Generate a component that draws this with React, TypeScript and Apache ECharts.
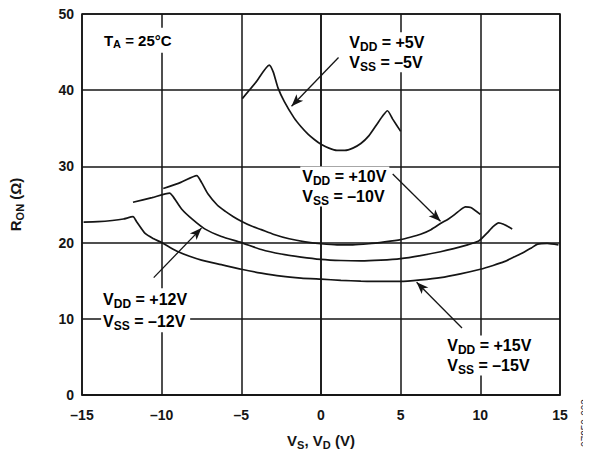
import React, { useEffect, useRef } from "react";
import * as echarts from "echarts";

// Axis ranges / ticks
const X_MIN = -15, X_MAX = 15, X_STEP = 5;
const Y_MIN = 0, Y_MAX = 50, Y_STEP = 10;

// RON (Ω) vs VS, VD (V) for each supply setting
const ron5: [number, number][] = [
  [-4.94, 38.9], [-4.1, 41.0], [-3.25, 43.3], [-3.0, 42.4], [-2.7, 40.3], [-2.3, 38.5],
  [-1.7, 36.4], [-1.25, 35.2], [-0.8, 34.2], [-0.4, 33.5], [0, 32.9], [0.5, 32.4],
  [1.0, 32.1], [1.5, 32.1], [2.0, 32.4], [2.5, 33.0], [3.0, 34.0], [3.5, 35.5],
  [3.9, 36.7], [4.17, 37.3], [4.5, 36.2], [5.0, 34.6],
];
const ron10: [number, number][] = [
  [-9.9, 27.1], [-8.8, 27.9], [-7.8, 28.8], [-7.5, 27.9], [-7.1, 26.4], [-6.5, 24.9],
  [-6.0, 24.1], [-5.5, 23.4], [-5, 22.8], [-4.4, 22.2], [-3.75, 21.7], [-3, 21.1],
  [-2, 20.5], [-1, 20.1], [0, 19.85], [1, 19.7], [2, 19.7], [3, 19.85], [4, 20.1],
  [5, 20.4], [5.6, 20.7], [6.25, 21.1], [6.9, 21.7], [7.5, 22.5], [8.0, 23.1],
  [8.4, 23.7], [8.75, 24.3], [9.06, 24.7], [9.4, 24.6], [10, 23.7],
];
const ron12: [number, number][] = [
  [-11.8, 25.3], [-10.6, 25.9], [-9.5, 26.5], [-9.27, 26.0], [-8.75, 24.4], [-8.1, 23.1],
  [-7.3, 21.8], [-6.25, 20.8], [-5, 20.0], [-3.75, 19.1], [-2.5, 18.5], [-1.25, 18.1],
  [0, 17.8], [1.25, 17.65], [2.5, 17.6], [3.75, 17.7], [5, 17.9], [6.25, 18.3],
  [7.5, 18.8], [8.33, 19.2], [9.2, 19.7], [9.9, 20.2], [10.4, 21.2], [10.8, 22.1],
  [11.15, 22.6], [11.46, 22.4], [12, 21.8],
];
const ron15: [number, number][] = [
  [-14.9, 22.7], [-14, 22.75], [-13.1, 22.9], [-12.4, 23.1], [-11.8, 23.4], [-11.56, 22.7],
  [-11.04, 21.2], [-10.5, 20.5], [-10, 20.0], [-9.5, 19.4], [-8.96, 18.8], [-8.25, 18.2],
  [-7.5, 17.7], [-6.25, 17.1], [-5, 16.5], [-3.75, 16.0], [-2.5, 15.6], [-1.25, 15.35],
  [0, 15.2], [1.25, 15.05], [2.5, 14.95], [3.75, 14.9], [5, 14.9], [6.25, 15.1],
  [7.5, 15.4], [8.75, 15.9], [10, 16.5], [10.8, 17.0], [11.5, 17.5], [12.1, 18.1],
  [12.7, 18.7], [13.2, 19.3], [13.6, 19.8], [14.2, 19.9], [14.9, 19.7],
];

// Annotation arrows (data coords: from, to)
const arrow5: [number, number][] = [[1.1, 44.3], [-1.85, 37.9]];
const arrow10: [number, number][] = [[4.5, 29.0], [7.5, 22.8]];
const arrow12: [number, number][] = [[-10.5, 15.4], [-7.5, 21.9]];
const arrow15: [number, number][] = [[8.85, 8.8], [6.0, 14.8]];

// Annotation labels: top-left in data coords, VDD text, VSS text
const labels = [
  { at: [1.65, 47.6], vdd: "+5V", vss: "–5V", lh: 20 },
  { at: [-1.3, 30.0], vdd: "+10V", vss: "–10V", lh: 20 },
  { at: [-13.8, 14.0], vdd: "+12V", vss: "–12V", lh: 22 },
  { at: [7.8, 7.8], vdd: "+15V", vss: "–15V", lh: 20 },
];
const tempLabel = { at: [-13.75, 46.55], text: "25°C" };
const figureId = "07950-003";

const FONT = "'Liberation Sans', Arial, Helvetica, sans-serif";
const INK = "#151515";

const richStyles = {
  n: { fontFamily: FONT, fontWeight: "bold", fontSize: 16, color: INK },
  s: { fontFamily: FONT, fontWeight: "bold", fontSize: 12, color: INK, padding: [9, 0, 0, 0] },
};
const richSmall = {
  n: { fontFamily: FONT, fontWeight: "bold", fontSize: 15, color: INK },
  s: { fontFamily: FONT, fontWeight: "bold", fontSize: 11, color: INK, padding: [8, 0, 0, 0] },
};

function lineSeries(name: string, data: [number, number][], arrow: [number, number][]) {
  return {
    name,
    type: "line",
    data,
    showSymbol: false,
    smooth: 0.2,
    lineStyle: { color: INK, width: 1.7 },
    silent: true,
    markLine: {
      silent: true,
      symbol: ["none", "arrow"],
      symbolSize: [7, 12],
      label: { show: false },
      lineStyle: { color: INK, width: 1.3, type: "solid" },
      data: [[{ coord: arrow[0] }, { coord: arrow[1] }]],
    },
  };
}

export default function App() {
  const ref = useRef<HTMLDivElement>(null);
  useEffect(() => {
    if (!ref.current) return;
    const chart = echarts.init(ref.current, undefined, { renderer: "svg" });
    const dash = (v: number) => (v < 0 ? "–" + Math.abs(v) : String(v));
    chart.setOption({
      animation: false,
      grid: {
        left: 80, right: 31, top: 14, bottom: 57,
        show: true, borderColor: INK, borderWidth: 1.6, backgroundColor: "transparent",
      },
      xAxis: {
        type: "value", min: X_MIN, max: X_MAX, interval: X_STEP,
        axisLine: { show: true, lineStyle: { color: INK, width: 1.6 } },
        axisTick: { show: false },
        splitLine: { show: true, lineStyle: { color: INK, width: 1.5 } },
        axisLabel: {
          formatter: dash, margin: 13,
          fontFamily: FONT, fontWeight: "bold", fontSize: 14, color: INK,
        },
        name: "{n|V}{s|S}{n|, V}{s|D}{n| (V)}",
        nameLocation: "middle",
        nameGap: 36,
        nameTextStyle: { rich: richSmall },
      },
      yAxis: {
        type: "value", min: Y_MIN, max: Y_MAX, interval: Y_STEP,
        axisLine: { show: true, lineStyle: { color: INK, width: 1.6 } },
        axisTick: { show: false },
        splitLine: { show: true, lineStyle: { color: INK, width: 1.5 } },
        axisLabel: {
          margin: 8,
          fontFamily: FONT, fontWeight: "bold", fontSize: 14, color: INK,
        },
        name: "{n|R}{s|ON}{n| (Ω)}",
        nameLocation: "middle",
        nameRotate: 90,
        nameGap: 57,
        nameTextStyle: { rich: richSmall },
      },
      series: [
        lineSeries("±5V", ron5, arrow5),
        lineSeries("±10V", ron10, arrow10),
        lineSeries("±12V", ron12, arrow12),
        lineSeries("±15V", ron15, arrow15),
      ],
    });

    const toPx = (p: number[]) => chart.convertToPixel({ gridIndex: 0 }, p) as number[];
    const graphics: any[] = labels.map((l) => {
      const [x, y] = toPx(l.at);
      return {
        type: "text",
        x, y,
        z: 100,
        style: {
          text: `{n|V}{s|DD}{n| = ${l.vdd}}\n{n|V}{s|SS}{n| = ${l.vss}}`,
          rich: {
            n: { ...richStyles.n, lineHeight: l.lh },
            s: { ...richStyles.s, lineHeight: l.lh - 6 },
          },
          backgroundColor: "#fff",
          padding: [0, 3, 0, 2],
          align: "left",
          verticalAlign: "top",
        },
      };
    });
    const [tx, ty] = toPx(tempLabel.at);
    graphics.push({
      type: "text",
      x: tx, y: ty,
      z: 100,
      style: {
        text: `{n|T}{s|A}{n| = ${tempLabel.text}}`,
        rich: richSmall,
        backgroundColor: "#fff",
        padding: [3, 3, 3, 2],
        align: "left",
        verticalAlign: "middle",
      },
    });
    graphics.push({
      type: "text",
      x: 585, y: 423,
      rotation: Math.PI / 2,
      style: {
        text: figureId,
        fontFamily: FONT, fontSize: 10, fill: "#223",
        align: "center", verticalAlign: "middle",
      },
    });
    chart.setOption({ graphic: graphics });

    return () => chart.dispose();
  }, []);
  return <div ref={ref} style={{ width: 591, height: 455, marginLeft: -8, marginTop: -8 }} />;
}
